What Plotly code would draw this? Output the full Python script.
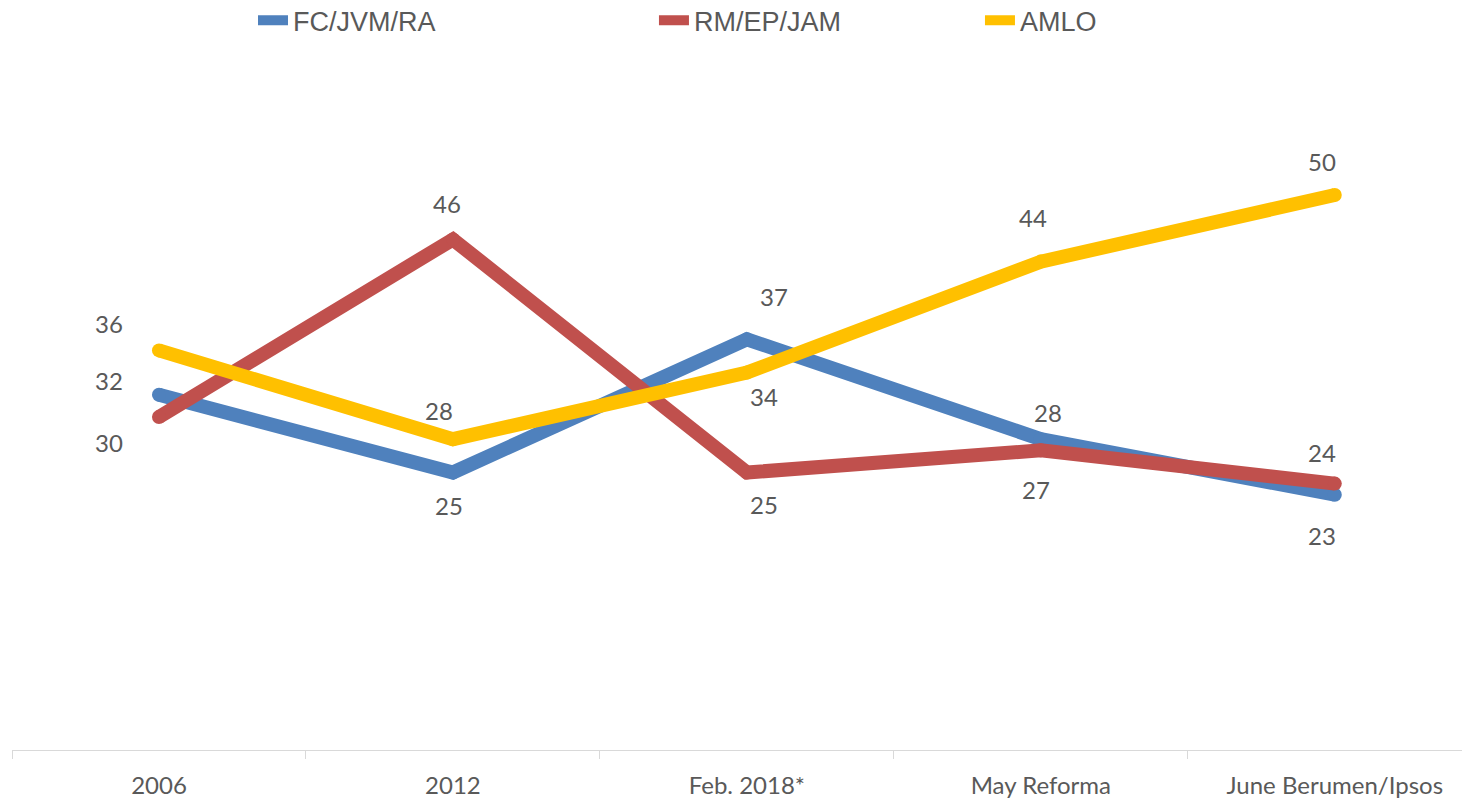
import plotly.graph_objects as go

categories = ["2006", "2012", "Feb. 2018*", "May Reforma", "June Berumen/Ipsos"]
fc_jvm_ra = [32, 25, 37, 28, 23]
rm_ep_jam = [30, 46, 25, 27, 24]
amlo = [36, 28, 34, 44, 50]

series_names = ["FC/JVM/RA", "RM/EP/JAM", "AMLO"]
series_values = [fc_jvm_ra, rm_ep_jam, amlo]
series_colors = ["#4F81BD", "#C0504D", "#FFC000"]

# label offsets in px (dx, dy; dy positive = up), per series per category
label_offsets = [
    [(-50, 11), (-4, -36), (27, 40), (7, 24), (-13, -44)],
    [(-50, -28), (-6, 33), (17, -35), (-5, -42), (-13, 28)],
    [(-50, 24), (-14, 26), (17, -27), (-8, 41), (-13, 31)],
]
LABEL_DY_FIX = 3
legend_x = [0.1653, 0.4403, 0.6639]

TEXT = "#595959"
LINE_W = 14

fig = go.Figure()
legend_ids = ["legend", "legend2", "legend3"]
for name, vals, col, lid in zip(series_names, series_values, series_colors, legend_ids):
    fig.add_trace(go.Scatter(
        x=categories, y=vals, name=name, mode="lines",
        line=dict(color=col, width=LINE_W),
        legend=lid, hoverinfo="skip",
    ))
    # round caps at the line ends
    fig.add_trace(go.Scatter(
        x=categories, y=vals, mode="markers", showlegend=False,
        marker=dict(color=col, size=LINE_W, line=dict(width=0)),
        hoverinfo="skip",
    ))

annotations = []
for vals, offs in zip(series_values, label_offsets):
    for i, (v, (dx, dy)) in enumerate(zip(vals, offs)):
        annotations.append(dict(
            x=i, y=v, xref="x", yref="y", text=str(v), showarrow=False,
            xanchor="center", yanchor="middle", xshift=dx, yshift=dy + LABEL_DY_FIX,
            font=dict(family="Lato", size=24, color=TEXT),
        ))

leg_common = dict(orientation="h", xanchor="left", yanchor="middle", y=1.095,
                  bgcolor="rgba(0,0,0,0)", borderwidth=0,
                  font=dict(family="Liberation Sans", size=27, color=TEXT),
                  itemwidth=30)
layout_legends = {}
for lid, lx in zip(legend_ids, legend_x):
    d = dict(leg_common)
    d["x"] = lx
    layout_legends[lid] = d

fig.update_layout(
    width=1462, height=796,
    margin=dict(l=4, r=0, t=76, b=54, pad=0, autoexpand=False),
    paper_bgcolor="white", plot_bgcolor="white",
    showlegend=True,
    xaxis=dict(type="category", range=[-0.5, 4.46], showgrid=False, zeroline=False,
               showline=True, linecolor="#D9D9D9", linewidth=1.3,
               ticks="outside", tickson="boundaries", ticklen=8, tickcolor="#D9D9D9",
               tickwidth=1.3, ticklabelstandoff=14,
               tickfont=dict(family="Lato", size=24, color=TEXT)),
    yaxis=dict(range=[0, 60], visible=False, showgrid=False, zeroline=False),
    annotations=annotations,
    **layout_legends,
)

fig.write_html("out.html")
